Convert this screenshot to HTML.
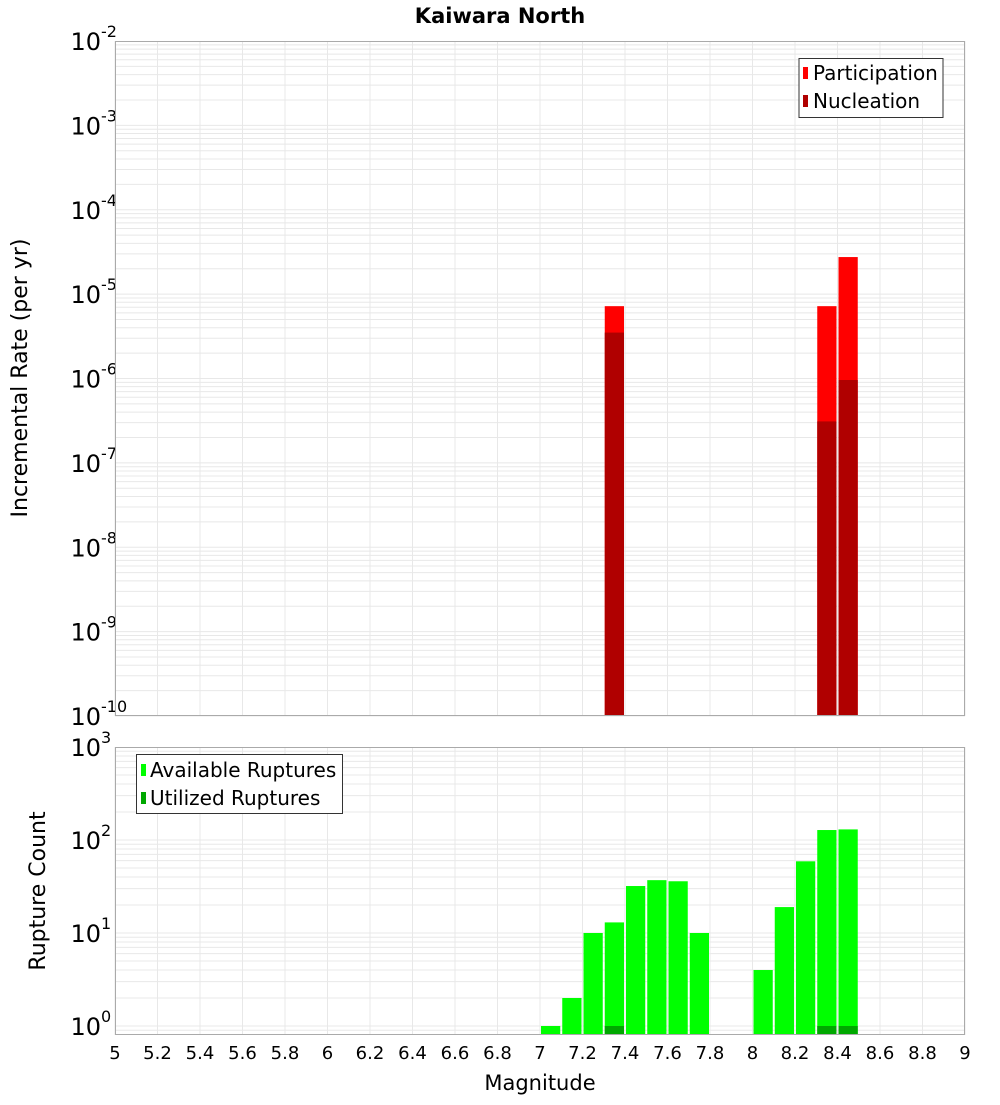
<!DOCTYPE html>
<html><head><meta charset="utf-8"><style>
body{margin:0;background:#fff}
svg text{font-family:"DejaVu Sans","Liberation Sans",sans-serif}
</style></head><body>
<svg id="chart" width="1000" height="1100" xmlns="http://www.w3.org/2000/svg">
<text x="500" y="23" text-anchor="middle" font-size="21" font-weight="bold">Kaiwara North</text>
<g id="topPanel"></g>
<g id="botPanel"></g>
<text transform="translate(27,378) rotate(-90)" text-anchor="middle" font-size="22">Incremental Rate (per yr)</text>
<text transform="translate(45,891) rotate(-90)" text-anchor="middle" font-size="22">Rupture Count</text>
<text x="540" y="1090" text-anchor="middle" font-size="21">Magnitude</text>
<g>
<rect x="799" y="58.5" width="144" height="59" fill="#fff" stroke="#333"/>
<rect x="803" y="67" width="5" height="12" fill="#ff0000"/>
<text x="813" y="80" font-size="20">Participation</text>
<rect x="803" y="95" width="5" height="12" fill="#b00000"/>
<text x="813" y="108" font-size="20">Nucleation</text>
</g>
<g>
<rect x="136.5" y="754.5" width="206" height="59" fill="#fff" stroke="#333"/>
<rect x="141" y="764" width="5" height="12" fill="#00ff00"/>
<text x="150" y="777" font-size="20">Available Ruptures</text>
<rect x="141" y="792" width="5" height="12" fill="#00a800"/>
<text x="150" y="805" font-size="20">Utilized Ruptures</text>
</g>
</svg>
<script>
const xTicks=[5,5.2,5.4,5.6,5.8,6,6.2,6.4,6.6,6.8,7,7.2,7.4,7.6,7.8,8,8.2,8.4,8.6,8.8,9];
const rateMags=[7.3,8.3,8.4];
const participation=[7.2e-6,7.2e-6,2.75e-5];
const nucleation=[3.5e-6,3.1e-7,9.6e-7];
const countMags=[7.0,7.1,7.2,7.3,7.4,7.5,7.6,7.7,8.0,8.1,8.2,8.3,8.4];
const available=[1,2,10,13,32,37,36,10,4,19,59,128,130];
const utilizedMags=[7.3,8.3,8.4];
const utilized=[1,1,1];
const topExps=[-10,-9,-8,-7,-6,-5,-4,-3,-2];
const botExps=[0,1,2,3];

const NS="http://www.w3.org/2000/svg";
const X0=115,X1=965;
const xs=m=>X0+(m-5)/4*(X1-X0);
const T0=41,T1=716; const yTop=v=>T1-(Math.log10(v)+10)/8*(T1-T0);
const B0=747,B1=1035,BD=93; const yBot=v=>1026-Math.log10(v)*BD;
function el(p,tag,a){const e=document.createElementNS(NS,tag);for(const k in a)e.setAttribute(k,a[k]);p.appendChild(e);return e;}
const gTop=document.getElementById('topPanel'),gBot=document.getElementById('botPanel');

function panel(g,y0,y1,yf,exps,lo,name){
  const bg=el(g,'rect',{x:X0,y:y0,width:X1-X0,height:y1-y0,fill:'#fff'});
  
  
  for(let e=lo;e<exps[exps.length-1];e++){for(let k=1;k<10;k++){const yy=yf(k*Math.pow(10,e));if(yy<y0||yy>y1)continue;
    const l=el(g,'line',{x1:X0,x2:X1,y1:yy,y2:yy,stroke:'#e8e8e8','stroke-width':1});
    
    }}
  xTicks.forEach(t=>{const l=el(g,'line',{x1:xs(t),x2:xs(t),y1:y0,y2:y1,stroke:'#e8e8e8','stroke-width':1});
    
    });
  exps.forEach(e=>{const yy=yf(Math.pow(10,e));
    const t=el(g,'text',{x:101,y:yy+9,'font-size':24,'text-anchor':'end'});t.textContent='10';
    
    
    const s=el(g,'text',{x:101,y:yy-4,'font-size':16});s.textContent=String(e);
    
    });
}
panel(gTop,T0,T1,yTop,topExps,-10,'top');
panel(gBot,B0,B1,yBot,botExps,-1,'bottom');

function bar(g,m,v,fill,base,yf,name){
  const yy=yf(v);const r=el(g,'rect',{x:xs(m)+1,y:yy,width:xs(m+0.1)-xs(m)-2,height:base-yy,fill:fill});
  
  
}
rateMags.forEach((m,i)=>bar(gTop,m,participation[i],'#ff0000',T1,yTop,'participation-bar'));
rateMags.forEach((m,i)=>bar(gTop,m,nucleation[i],'#b00000',T1,yTop,'nucleation-bar'));
countMags.forEach((m,i)=>bar(gBot,m,available[i],'#00ff00',B1,yBot,'available-bar'));
utilizedMags.forEach((m,i)=>bar(gBot,m,utilized[i],'#00a800',B1,yBot,'utilized-bar'));

[[T0,T1,'top'],[B0,B1,'bottom']].forEach(([a,b,n])=>{const r=el(n=='top'?gTop:gBot,'rect',{x:X0+0.5,y:a+0.5,width:X1-X0-1,height:b-a-1,fill:'none',stroke:'#aaa'});
  
  });
xTicks.forEach(t=>{const tx=el(gBot,'text',{x:xs(t),y:1059,'font-size':18,'text-anchor':'middle'});tx.textContent=String(t);
  
  });
</script>
</body></html>
